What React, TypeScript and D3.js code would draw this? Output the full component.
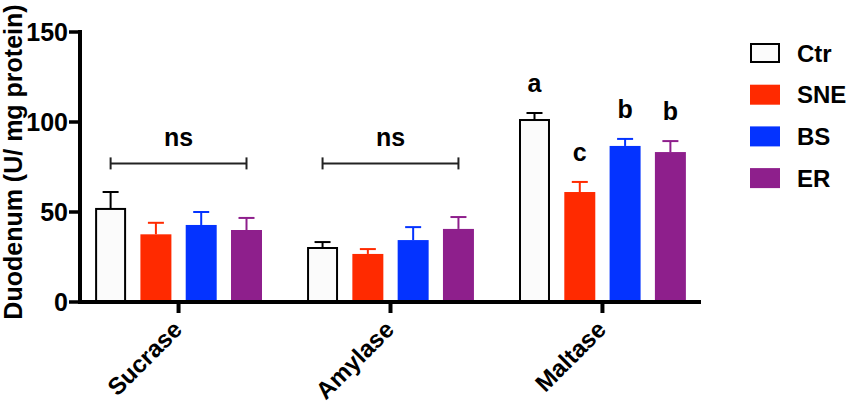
import { useEffect, useRef } from 'react'
import * as d3 from 'd3'

const categories = ['Sucrase', 'Amylase', 'Maltase']
const groups = ['Ctr', 'SNE', 'BS', 'ER']
const colors = ['#fbfbfb', '#ff2a00', '#0433ff', '#8e1f8c']

// mean and SEM per group, ordered like categories
const ctrMean = [51.7, 30.0, 101.1]
const ctrSem = [9.4, 3.3, 3.9]
const sneMean = [37.6, 26.7, 61.1]
const sneSem = [6.4, 2.7, 5.6]
const bsMean = [42.8, 34.4, 86.7]
const bsSem = [7.2, 7.2, 3.9]
const erMean = [40.0, 40.6, 83.3]
const erSem = [6.7, 6.6, 6.1]

const yTicks = [0, 50, 100, 150]
const nsCategories = ['Sucrase', 'Amylase']
const nsLevel = 77
const maltaseLetters = ['a', 'c', 'b', 'b']

const means = [ctrMean, sneMean, bsMean, erMean]
const sems = [ctrSem, sneSem, bsSem, erSem]

const FONT = '"Liberation Sans", Arial, sans-serif'

function DuodenumChart() {
  const ref = useRef<SVGSVGElement>(null)

  useEffect(() => {
    const el = ref.current
    if (!el) return
    const svg = d3.select(el)
    svg.selectAll('*').remove()

    const axisLeft = 80
    const axisRight = 701
    const y = d3.scaleLinear().domain([0, 150]).range([302, 32])
    const x = d3.scalePoint<string>().domain(categories).range([axisLeft, axisRight]).padding(0.465)
    const inner = d3
      .scaleBand<string>()
      .domain(groups)
      .range([-90.6, 90.6])
      .paddingInner(0.316)
      .paddingOuter(0.158)

    const bars = categories.flatMap((c, ci) =>
      groups.map((g, gi) => ({
        cat: c,
        group: g,
        gi,
        mean: means[gi][ci],
        sem: sems[gi][ci],
      }))
    )
    const barX = (d: { cat: string; group: string }) => (x(d.cat) || 0) + (inner(d.group) || 0)
    const bw = inner.bandwidth()

    const g = svg.append('g').style('font-family', FONT).style('font-weight', 'bold')

    // error bars
    const eb = g.selectAll('g.err').data(bars).join('g').attr('class', 'err')
    eb.append('line')
      .attr('x1', (d) => barX(d) + bw / 2)
      .attr('x2', (d) => barX(d) + bw / 2)
      .attr('y1', (d) => y(d.mean))
      .attr('y2', (d) => y(d.mean + d.sem))
      .attr('stroke', (d) => (d.gi === 0 ? '#000' : colors[d.gi]))
      .attr('stroke-width', 2)
    eb.append('line')
      .attr('x1', (d) => barX(d) + bw / 2 - 8)
      .attr('x2', (d) => barX(d) + bw / 2 + 8)
      .attr('y1', (d) => y(d.mean + d.sem))
      .attr('y2', (d) => y(d.mean + d.sem))
      .attr('stroke', (d) => (d.gi === 0 ? '#000' : colors[d.gi]))
      .attr('stroke-width', 2)

    // bars
    g.selectAll('rect.bar')
      .data(bars)
      .join('rect')
      .attr('class', 'bar')
      .attr('x', (d) => barX(d) + (d.gi === 0 ? 1 : 0))
      .attr('width', (d) => bw - (d.gi === 0 ? 2 : 0))
      .attr('y', (d) => y(d.mean))
      .attr('height', (d) => y(0) - y(d.mean))
      .attr('fill', (d) => colors[d.gi])
      .attr('stroke', (d) => (d.gi === 0 ? '#000' : 'none'))
      .attr('stroke-width', 2)

    // ns brackets
    nsCategories.forEach((c) => {
      const x1 = (x(c) || 0) + (inner(groups[0]) || 0) + bw / 2
      const x2 = (x(c) || 0) + (inner(groups[groups.length - 1]) || 0) + bw / 2
      const yl = y(nsLevel)
      const b = g.append('g').attr('stroke', '#222').attr('stroke-width', 2)
      b.append('line').attr('x1', x1).attr('x2', x2).attr('y1', yl).attr('y2', yl)
      b.append('line').attr('x1', x1).attr('x2', x1).attr('y1', yl - 6).attr('y2', yl + 6)
      b.append('line').attr('x1', x2).attr('x2', x2).attr('y1', yl - 6).attr('y2', yl + 6)
      g.append('text')
        .attr('x', (x1 + x2) / 2)
        .attr('y', yl - 17)
        .attr('text-anchor', 'middle')
        .style('font-size', '25px')
        .text('ns')
    })

    // significance letters for Maltase
    g.selectAll('text.sig')
      .data(bars.filter((d) => d.cat === 'Maltase'))
      .join('text')
      .attr('class', 'sig')
      .attr('x', (d) => barX(d) + bw / 2)
      .attr('y', (d) => y(d.mean + d.sem) - 21)
      .attr('text-anchor', 'middle')
      .style('font-size', '25px')
      .text((d) => maltaseLetters[d.gi])

    // y axis
    g.append('line')
      .attr('x1', axisLeft)
      .attr('x2', axisLeft)
      .attr('y1', y(150) - 2)
      .attr('y2', y(0) + 2)
      .attr('stroke', '#000')
      .attr('stroke-width', 4)
    g.selectAll('line.ytick')
      .data(yTicks)
      .join('line')
      .attr('class', 'ytick')
      .attr('x1', axisLeft - 11)
      .attr('x2', axisLeft)
      .attr('y1', (d) => y(d))
      .attr('y2', (d) => y(d))
      .attr('stroke', '#000')
      .attr('stroke-width', 3.5)
    g.selectAll('text.ylab')
      .data(yTicks)
      .join('text')
      .attr('class', 'ylab')
      .attr('x', axisLeft - 12)
      .attr('y', (d) => y(d))
      .attr('dy', '0.36em')
      .attr('text-anchor', 'end')
      .style('font-size', '25px')
      .text((d) => d)

    g.append('text')
      .attr('transform', `translate(22,${(y(0) + y(150)) / 2 - 5}) rotate(-90)`)
      .attr('text-anchor', 'middle')
      .style('font-size', '25px')
      .text('Duodenum (U/ mg protein)')

    // x axis
    g.append('line')
      .attr('x1', axisLeft - 2)
      .attr('x2', axisRight)
      .attr('y1', y(0))
      .attr('y2', y(0))
      .attr('stroke', '#000')
      .attr('stroke-width', 4)
    g.selectAll('line.xtick')
      .data(categories)
      .join('line')
      .attr('class', 'xtick')
      .attr('x1', (d) => x(d) || 0)
      .attr('x2', (d) => x(d) || 0)
      .attr('y1', y(0))
      .attr('y2', y(0) + 11)
      .attr('stroke', '#000')
      .attr('stroke-width', 4)
    g.selectAll('text.xlab')
      .data(categories)
      .join('text')
      .attr('class', 'xlab')
      .attr('transform', (d) => `translate(${(x(d) || 0) + 5},331) rotate(-45)`)
      .attr('text-anchor', 'end')
      .style('font-size', '24px')
      .text((d) => d)

    // legend
    const lg = g.selectAll('g.leg').data(groups).join('g').attr('class', 'leg')
      .attr('transform', (_, i) => `translate(750,${43 + i * 41.7})`)
    lg.append('rect')
      .attr('x', (_, i) => (i === 0 ? 1 : 0))
      .attr('y', (_, i) => (i === 0 ? 1 : 0))
      .attr('width', (_, i) => (i === 0 ? 28 : 30))
      .attr('height', (_, i) => (i === 0 ? 18 : 20))
      .attr('fill', (_, i) => colors[i])
      .attr('stroke', (_, i) => (i === 0 ? '#000' : 'none'))
      .attr('stroke-width', 2)
    lg.append('text')
      .attr('x', 47)
      .attr('y', 10)
      .attr('dy', '0.36em')
      .style('font-size', '24px')
      .text((d) => d)
  }, [])

  return <svg ref={ref} width={851} height={410} style={{ position: 'absolute', left: 0, top: 0, background: '#fff' }} />
}

export default function App() {
  return <DuodenumChart />
}
